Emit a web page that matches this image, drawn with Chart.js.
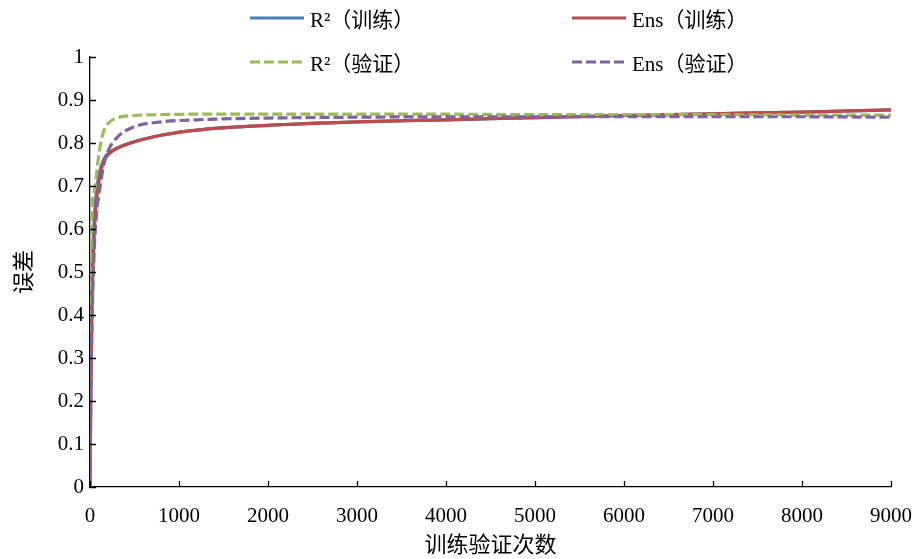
<!DOCTYPE html>
<html>
<head>
<meta charset="utf-8">
<script src="https://cdn.jsdelivr.net/npm/chart.js@4/dist/chart.umd.min.js"></script>
<style>
  html, body { margin: 0; padding: 0; background: #fff; }
  #wrap { position: relative; width: 920px; height: 559px; }
  #legend { position: absolute; left: 0; top: 0; width: 920px; height: 80px; pointer-events: none;
    font-family: 'Liberation Serif', 'Noto Sans CJK SC', serif; font-size: 21px; color: #000; }
  .item { position: absolute; display: flex; align-items: center; white-space: nowrap; }
  .item svg { margin-right: 6px; }
</style>
</head>
<body>
<div id="wrap">
  <canvas id="c" width="920" height="559"></canvas>
  <div id="legend"></div>
</div>
<script>
// ---- data ----
const iterations = [0, 10, 25, 50, 75, 100, 150, 200, 300, 500, 800, 1200, 2000, 3000, 4000, 5000, 6000, 7000, 8000, 9000];
const r2Train  = [0, 0.30, 0.50, 0.63, 0.69, 0.725, 0.760, 0.775, 0.788, 0.803, 0.818, 0.830, 0.841, 0.849, 0.854, 0.859, 0.864, 0.868, 0.872, 0.877];
const ensTrain = [0, 0.25, 0.45, 0.60, 0.67, 0.710, 0.755, 0.772, 0.787, 0.803, 0.818, 0.830, 0.841, 0.849, 0.854, 0.859, 0.864, 0.868, 0.872, 0.877];
const r2Valid  = [0, 0.50, 0.65, 0.69, 0.73, 0.775, 0.825, 0.845, 0.858, 0.864, 0.866, 0.867, 0.867, 0.867, 0.867, 0.866, 0.866, 0.866, 0.865, 0.865];
const ensValid = [0, 0.20, 0.40, 0.56, 0.64, 0.680, 0.745, 0.780, 0.812, 0.838, 0.849, 0.854, 0.858, 0.860, 0.861, 0.861, 0.861, 0.861, 0.861, 0.860];
const seriesNames = ['R²（训练）', 'Ens（训练）', 'R²（验证）', 'Ens（验证）'];
const xTicks = [0, 1000, 2000, 3000, 4000, 5000, 6000, 7000, 8000, 9000];
const yTicks = [0, 0.1, 0.2, 0.3, 0.4, 0.5, 0.6, 0.7, 0.8, 0.9, 1];
const xTitle = '训练验证次数';
const yTitle = '误差';

const colors = ['#4A7EBB', '#BE4B48', '#9BBB59', '#7F62A1'];
const dashes = [[], [], [10, 4], [10, 4]];
const drawOrder = [4, 3, 2, 1];
const seriesValues = [r2Train, ensTrain, r2Valid, ensValid];

const toPoints = ys => iterations.map((x, i) => ({ x: x, y: ys[i] }));

const FONT = "'Liberation Serif', 'Noto Sans CJK SC', serif";
Chart.defaults.font.family = FONT;
Chart.defaults.color = '#000';

const insideTicks = {
  id: 'insideTicks',
  afterDatasetsDraw(chart) {
    const ctx = chart.ctx;
    const xs = chart.scales.x, ys = chart.scales.y;
    ctx.save();
    ctx.strokeStyle = '#000';
    ctx.lineWidth = 1.3;
    ctx.beginPath();
    xTicks.forEach(v => {
      const px = Math.round(xs.getPixelForValue(v)) + 0.5;
      ctx.moveTo(px, ys.bottom);
      ctx.lineTo(px, ys.bottom - 6);
    });
    yTicks.forEach(v => {
      const py = Math.round(ys.getPixelForValue(v)) + 0.5;
      ctx.moveTo(xs.left, py);
      ctx.lineTo(xs.left + 6, py);
    });
    ctx.stroke();
    ctx.restore();
  }
};

const chart = new Chart(document.getElementById('c'), {
  type: 'line',
  data: {
    datasets: seriesValues.map((vals, i) => ({
      label: seriesNames[i],
      data: toPoints(vals),
      borderColor: colors[i],
      backgroundColor: colors[i],
      borderWidth: 3.2,
      borderDash: dashes[i],
      pointRadius: 0,
      fill: false,
      cubicInterpolationMode: 'monotone',
      order: drawOrder[i]
    }))
  },
  options: {
    responsive: false,
    animation: false,
    events: [],
    layout: { padding: { top: 57, right: 29, left: 0, bottom: 0 } },
    plugins: { legend: { display: false }, tooltip: { enabled: false } },
    scales: {
      x: {
        type: 'linear',
        min: 0, max: 9000,
        afterBuildTicks: s => { s.ticks = xTicks.map(v => ({ value: v })); },
        afterFit: s => { s.height = 72; s.paddingLeft = 0; s.paddingRight = 0; },
        grid: { display: false, drawTicks: false },
        border: { display: true, color: '#000', width: 1.3 },
        ticks: { font: { size: 21 }, padding: 17, maxRotation: 0, autoSkip: false, color: '#000',
          callback: v => String(v) },
        title: { display: true, text: xTitle, font: { size: 22 }, padding: { top: 0, bottom: 0 }, color: '#000' }
      },
      y: {
        type: 'linear',
        min: 0, max: 1,
        afterBuildTicks: s => { s.ticks = yTicks.map(v => ({ value: v })); },
        afterFit: s => { s.width = 90; s.paddingTop = 0; s.paddingBottom = 0; },
        grid: { display: false, drawTicks: false },
        border: { display: true, color: '#000', width: 1.3 },
        ticks: { font: { size: 21 }, padding: 6, autoSkip: false, color: '#000',
          callback: v => String(Math.round(v * 10) / 10) },
        title: { display: true, text: yTitle, font: { size: 22 }, padding: { top: 12, bottom: 0 }, color: '#000' }
      }
    }
  },
  plugins: [insideTicks]
});

// ---- legend (2 x 2 grid) built from the datasets ----
const legendPos = [[250, 18], [572, 18], [250, 62], [572, 62]];
const legendEl = document.getElementById('legend');
chart.data.datasets.forEach((ds, i) => {
  const item = document.createElement('div');
  item.className = 'item';
  item.style.left = legendPos[i][0] + 'px';
  item.style.top = (legendPos[i][1] - 14) + 'px';
  item.style.height = '28px';
  const dash = ds.borderDash.length ? `stroke-dasharray="${ds.borderDash.join(' ')}"` : '';
  item.innerHTML = `<svg width="54" height="8"><line x1="0" y1="4" x2="54" y2="4" stroke="${ds.borderColor}" stroke-width="3" ${dash}/></svg><span>${ds.label}</span>`;
  legendEl.appendChild(item);
});
</script>
</body>
</html>
